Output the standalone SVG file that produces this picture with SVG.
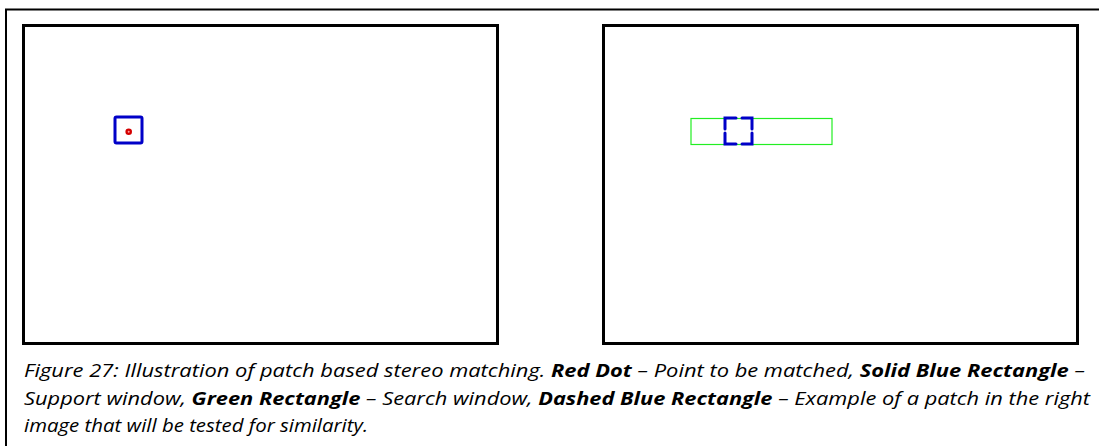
<svg xmlns="http://www.w3.org/2000/svg" width="1099" height="446" viewBox="0 0 1099 446">
  <style>
    .frame { fill: none; stroke: #000; stroke-width: 2; }
    .panel { fill: #fff; stroke: #000; stroke-width: 3; }
    .support { fill: none; stroke: #0000c8; stroke-width: 3; }
    .search { fill: none; stroke: #22ee22; stroke-width: 1.2; }
    .caption { font-family: "Open Sans", "Liberation Sans", sans-serif; font-style: italic; font-size: 18.5px; fill: #000; }
    .b { font-weight: bold; }
  </style>
  <rect width="1099" height="446" fill="#fff"/>
  <!-- outer figure border -->
  <path class="frame" d="M6,446 V9.5 H1099"/>

  <!-- left image -->
  <g id="left-image">
    <rect class="panel" x="23.5" y="25.5" width="474" height="318"/>
  </g>
  <!-- right image -->
  <g id="right-image">
    <rect class="panel" x="603.5" y="25.5" width="474" height="318"/>
  </g>

  <!-- support window with the point to match -->
  <g id="support-window">
    <rect class="support" x="115" y="117" width="27" height="26" rx="1.5"/>
  </g>
  <g id="red-dot">
    <circle cx="128.7" cy="131.7" r="3.3" fill="#d40000"/>
    <circle cx="128.7" cy="131.7" r="1" fill="#ff9a9a"/>
  </g>

  <!-- search window along the scanline -->
  <g id="search-window">
    <rect class="search" x="691" y="118.5" width="141" height="26"/>
  </g>

  <!-- candidate patch (dashed) -->
  <g id="candidate-patch" fill="none" stroke="#0000c8" stroke-width="3" stroke-linecap="round">
    <path d="M725,129 V118 H736"/>
    <path d="M742,118 H752 V129"/>
    <path d="M725,133 V144 H736"/>
    <path d="M742,144 H752 V133"/>
  </g>

  <!-- caption -->
  <g id="caption">
    <text class="caption" x="24" y="377" textLength="1061" lengthAdjust="spacingAndGlyphs">Figure 27: Illustration of patch based stereo matching. <tspan class="b">Red Dot</tspan> – Point to be matched, <tspan class="b">Solid Blue Rectangle</tspan> –</text>
    <text class="caption" x="24" y="405" textLength="1066" lengthAdjust="spacingAndGlyphs">Support window, <tspan class="b">Green Rectangle</tspan> – Search window, <tspan class="b">Dashed Blue Rectangle</tspan> – Example of a patch in the right</text>
    <text class="caption" x="24" y="432" textLength="344" lengthAdjust="spacingAndGlyphs">image that will be tested for similarity.</text>
  </g>
</svg>
